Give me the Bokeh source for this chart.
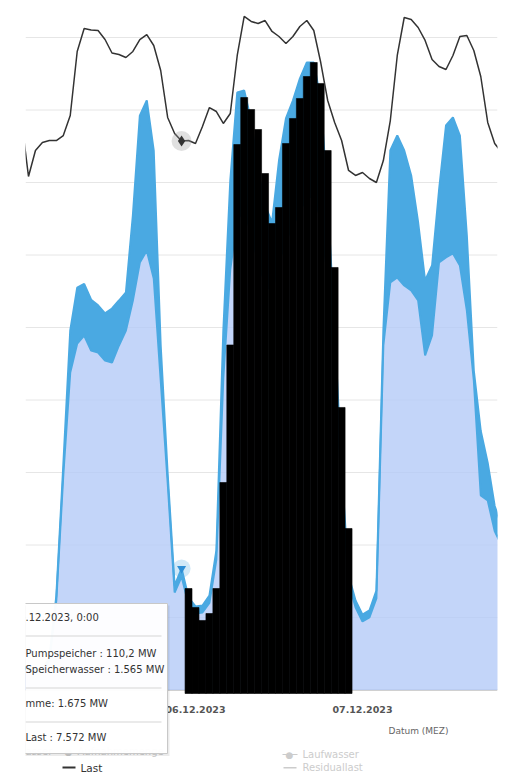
from bokeh.plotting import figure
from bokeh.models import Span
from bokeh.core.properties import value
from bokeh.embed import file_html
from bokeh.resources import INLINE
import numpy as np

# ---- data (hours since 05.12.2023 00:00, values in MW) ----
hours = list(range(-1, 69))
last = [7855, 7083, 7441, 7552, 7579, 7579, 7648, 7924, 8807, 9124,
        9103, 9097, 8972, 8786, 8765, 8724, 8807, 8972, 9041, 8890,
        8545, 7897, 7676, 7572, 7579, 7538, 7772, 8034, 7979, 7814,
        7952, 8752, 9290, 9221, 9193, 9234, 9083, 9014, 8917, 9014,
        9152, 9234, 9097, 8655, 8131, 7828, 7579, 7166, 7097, 7138,
        7055, 7000, 7303, 7855, 8752, 9276, 9248, 9138, 8959, 8697,
        8600, 8559, 8752, 9014, 9028, 8821, 8462, 7828, 7538, 7414]
speicherwasser = [300, 280, 260, 250, 400, 1240, 2960, 4380, 4779, 4890,
                  4683, 4655, 4545, 4517, 4752, 4959, 5372, 5897, 6062, 5676,
                  4270, 2862, 1345, 1565, 1179, 1055, 1070, 1200, 1800, 4300,
                  5800, 6500, 6600, 6300, 5900, 5600, 5500, 5900, 6200, 6400,
                  6600, 6800, 6800, 6500, 5700, 4400, 2800, 1480, 1140, 945,
                  1000, 1262, 4752, 5621, 5690, 5579, 5510, 5372, 4614, 4890,
                  5897, 5966, 6021, 5855, 5234, 4269, 2683, 2614, 2193, 1993]
pumpspeicher = [30, 30, 30, 30, 40, 60, 140, 580, 770, 710,
                700, 650, 650, 745, 620, 525, 1175, 2025, 2070, 1765,
                480, 125, 96, 110.2, 97, 97, 96, 103, 124, 659,
                1228, 1741, 1669, 1555, 1266, 1083, 948, 1403, 1683, 1731,
                1834, 1855, 1855, 1631, 1052, 559, 227, 99, 94, 95,
                97, 110, 207, 1820, 1958, 1862, 1587, 1076, 1034, 965,
                993, 1820, 1876, 1793, 1035, 138, 889, 517, 345, 269]
black_hours = list(range(23, 47))
black_tops = [1400, 1138, 959, 1055, 1400, 2862, 4759, 7524, 8172, 8007,
              7731, 7124, 6434, 6655, 7538, 7883, 8159, 8462, 8655, 8366,
              7441, 5828, 3897, 2228]
grid_values = [1000, 2000, 3000, 4000, 5000, 6000, 7000, 8000, 9000]
tick_hours = [24, 48]
tick_labels = ["06.12.2023", "07.12.2023"]
hover_hour = 22

BLUE = "#4aa9e2"
LAV = "#b4cbf7"
FONT = "DejaVu Sans"

# page-pixel helpers for placing the texts below the plot area
def hx(px):
    return (px - 28.0) / 6.958

def my(py):
    return (689.5 - py) / 0.0725

p = figure(width=500, height=776, x_range=(hx(25), hx(497)), y_range=(my(776), my(0)),
           output_backend="svg", toolbar_location=None,
           x_axis_location=None, y_axis_location=None,
           min_border_left=25, min_border_right=3, min_border_top=0, min_border_bottom=0)
p.outline_line_color = None
p.background_fill_color = "white"
p.border_fill_color = "white"
p.grid.visible = False

for v in grid_values:
    p.add_layout(Span(location=v, dimension="width", line_color="#e6e6e6", line_width=1, level="underlay"))
p.add_layout(Span(location=0, dimension="width", line_color="#c0c0c0", line_width=1.5, level="underlay"))

x = np.array(hours, dtype=float)
sw = np.array(speicherwasser, dtype=float)
total = sw + np.array(pumpspeicher, dtype=float)

p.varea(x=x, y1=0, y2=sw, fill_color=LAV, fill_alpha=0.8)
p.varea(x=x, y1=sw, y2=total, fill_color=BLUE, fill_alpha=1.0)
p.line(x, sw, line_color=BLUE, line_width=2)
p.line(x, total, line_color=BLUE, line_width=2)

p.vbar(x=black_hours, top=black_tops, bottom=my(693), width=1, fill_color="black",
       line_color="black", line_width=0.6)

p.line(x, last, line_color="#333333", line_width=1.5)

hi = hours.index(hover_hour)
p.scatter([hover_hour], [total[hi]], size=18, fill_color=BLUE, fill_alpha=0.25, line_color=None)
p.scatter([hover_hour], [total[hi]], marker="inverted_triangle", size=9, fill_color="#2f8fd6", line_color=None)
p.scatter([hover_hour], [last[hi]], size=20, fill_color="#999999", fill_alpha=0.3, line_color=None)
p.scatter([hover_hour], [last[hi]], marker="diamond", size=11, fill_color="#333333", line_color=None)

# x-axis tick labels and title
p.text(x=tick_hours, y=[my(709)] * len(tick_hours), text=tick_labels, text_align="center",
       text_baseline="middle", text_font=value(FONT), text_font_size="9.5px",
       text_font_style="bold", text_color="#555555")

def lab(px, py, text, color="#333333", size="10px", align="left", style="normal"):
    p.text(x=[hx(px)], y=[my(py)], text=[text], text_color=color, text_font=value(FONT),
           text_font_size=size, text_align=align, text_baseline="middle", text_font_style=style)

def rect(x0, x1, y0, y1, fill, alpha=1.0, line=None):
    p.quad(left=hx(x0), right=hx(x1), top=my(y0), bottom=my(y1),
           fill_color=fill, fill_alpha=alpha, line_color=line)

lab(388, 730, "Datum (MEZ)", color="#666666", size="9px")

# legend
lab(25, 751, "asser", color="#cccccc")
lab(68, 751, "\u25cf", color="#cccccc", size="9px", align="center")
lab(77, 751, "Aufnahmemenge", color="#cccccc")
rect(62, 75, 766, 768, "#333333")
lab(80, 767, "Last", color="#333333", size="10.5px")
lab(289, 754, "\u25cf", color="#cccccc", size="9px", align="center")
rect(282, 297, 753.5, 754.5, "#cccccc")
lab(302, 754, "Laufwasser", color="#cccccc")
rect(283, 296, 766.5, 768, "#cccccc")
lab(302, 767, "Residuallast", color="#cccccc")

# tooltip
rect(-20, 169, 605, 755.5, "#000000", alpha=0.08)
rect(-20, 167, 603, 753, "#ffffff", alpha=0.97, line="#c8c8c8")
lab(25, 617, ".12.2023, 0:00")
rect(25, 161, 635, 636, "#d6d6d6")
lab(25, 653, "Pumpspeicher : 110,2 MW")
lab(25, 669, "Speicherwasser : 1.565 MW")
rect(25, 161, 687, 688, "#d6d6d6")
lab(25, 703, "mme: 1.675 MW")
rect(25, 161, 721, 722, "#d6d6d6")
lab(25, 737, "Last : 7.572 MW")

open("out.html", "w").write(file_html(p, INLINE))
